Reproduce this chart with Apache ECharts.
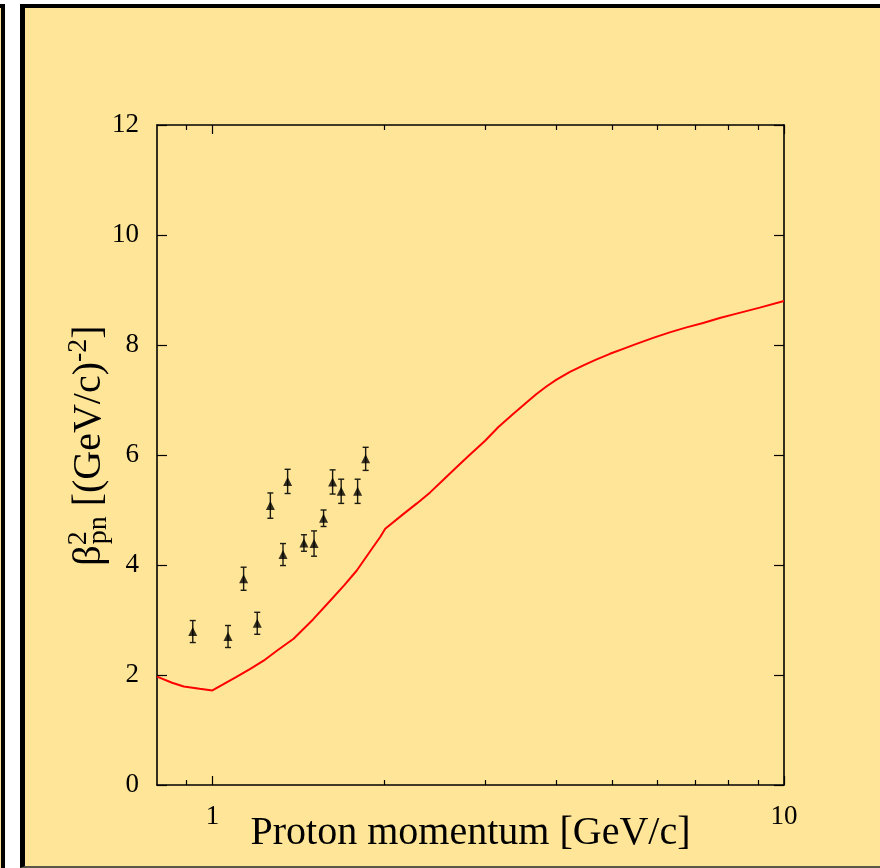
<!DOCTYPE html>
<html>
<head>
<meta charset="utf-8">
<script src="https://cdn.jsdelivr.net/npm/echarts@6/dist/echarts.min.js"></script>
<style>
  html, body { margin: 0; padding: 0; background: #ffffff; width: 880px; height: 868px; overflow: hidden; }
  .side-panel {
    position: absolute; box-sizing: border-box;
    left: -20px; top: 4px; width: 25px; height: 900px;
    background: #FFE597; border-top: 4px solid #000; border-right: 4px solid #000;
  }
  .main-panel {
    position: absolute; box-sizing: border-box;
    left: 20px; top: 4px; width: 900px; height: 864px;
    background: #FFE597;
    border-left: 5px solid #000; border-top: 4px solid #000; border-bottom: 2px solid #5a5648;
  }
  #chart { position: absolute; left: 0; top: 0; width: 880px; height: 868px; }
</style>
</head>
<body>
<div class="side-panel"></div>
<div class="main-panel"></div>
<div id="chart"></div>
<script>
// Measured beta^2_pn slope parameter vs proton momentum
const momentum = [0.924, 1.065, 1.134, 1.198, 1.263, 1.329, 1.354, 1.446, 1.506, 1.565, 1.623, 1.680, 1.795, 1.854];
const beta2    = [2.79, 2.70, 3.75, 2.94, 5.08, 4.19, 5.52, 4.40, 4.39, 4.85, 5.51, 5.34, 5.34, 5.93];
const beta2Err = [0.20, 0.20, 0.21, 0.20, 0.23, 0.20, 0.22, 0.15, 0.23, 0.15, 0.22, 0.22, 0.22, 0.21];

// Model curve
const modelMomentum = [
  0.80, 0.85, 0.891, 0.95, 1.00, 1.10, 1.165, 1.229, 1.30, 1.387, 1.50, 1.607, 1.70, 1.789, 1.90, 1.966,
  2.006, 2.16, 2.279, 2.404, 2.536, 2.676, 2.824, 3.0, 3.165, 3.362, 3.548, 3.69, 3.845, 4.0, 4.222,
  4.457, 4.701, 4.96, 5.232, 5.52, 5.903, 6.31, 6.752, 7.22, 7.72, 8.26, 9.07, 10.0
];
const modelBeta2 = [
  1.97, 1.86, 1.79, 1.75, 1.72, 1.96, 2.11, 2.26, 2.45, 2.66, 3.01, 3.35, 3.63, 3.90, 4.29, 4.51,
  4.66, 4.93, 5.12, 5.32, 5.55, 5.78, 6.01, 6.26, 6.51, 6.75, 6.96, 7.11, 7.25, 7.37, 7.51,
  7.63, 7.74, 7.84, 7.93, 8.02, 8.13, 8.23, 8.32, 8.40, 8.49, 8.57, 8.68, 8.80
];

// Axis ticks and labels
const xMajorTicks = [1, 10];
const xMinorTicks = [0.9, 2, 3, 4, 5, 6, 7, 8, 9];
const xLabels = [1, 10];
const yMin = 0, yMax = 12, yStep = 2;

const FONT = '"Liberation Serif", "Times New Roman", serif';
const AX = '#000';

const chart = echarts.init(document.getElementById('chart'), null, { renderer: 'canvas' });

const pointData = momentum.map((m, i) => [m, beta2[i]]);
const errData = momentum.map((m, i) => [m, beta2[i] - beta2Err[i], beta2[i] + beta2Err[i]]);
const curveData = modelMomentum.map((m, i) => [m, modelBeta2[i]]);

function xAxisDef(position, ticks, len, withLine, withLabels) {
  return {
    type: 'log', logBase: 10, min: 0.8, max: 10, position,
    axisLine: { show: withLine, onZero: false, lineStyle: { color: AX, width: 1.6 } },
    axisTick: { show: true, inside: true, length: len, customValues: ticks, lineStyle: { color: AX, width: 1.2 } },
    minorTick: { show: false },
    splitLine: { show: false },
    axisLabel: withLabels ? {
      show: true, customValues: xLabels, margin: 18,
      fontFamily: FONT, fontSize: 27, color: '#000'
    } : { show: false },
    name: withLabels ? 'Proton momentum [GeV/c]' : '',
    nameLocation: 'middle', nameGap: 28, nameMoveOverlap: false,
    nameTextStyle: { fontFamily: FONT, fontSize: 40, color: '#000' }
  };
}

// Rich-text pieces of the vertical axis title (left-aligned so the
// zero-width superscript sits directly above the subscript)
const titleRich = {
  b:    { fontFamily: FONT, fontSize: 40, color: '#000', lineHeight: 48, verticalAlign: 'middle', align: 'left' },
  sup2: { fontFamily: FONT, fontSize: 28, color: '#000', lineHeight: 28, verticalAlign: 'top', width: 1, align: 'left' },
  sup:  { fontFamily: FONT, fontSize: 28, color: '#000', lineHeight: 28, verticalAlign: 'top', align: 'left' },
  sub:  { fontFamily: FONT, fontSize: 28, color: '#000', lineHeight: 28, verticalAlign: 'bottom', align: 'left' }
};

const option = {
  animation: false,
  backgroundColor: 'transparent',
  grid: { left: 157, top: 125, width: 627, height: 660, containLabel: false, outerBoundsMode: 'none' },
  xAxis: [
    xAxisDef('bottom', xMajorTicks, 9, true, true),
    xAxisDef('bottom', xMinorTicks, 5, false, false),
    xAxisDef('top', xMajorTicks, 9, true, false),
    xAxisDef('top', xMinorTicks, 5, false, false)
  ],
  yAxis: [
    {
      type: 'value', min: yMin, max: yMax, interval: yStep, position: 'left',
      axisLine: { show: true, onZero: false, lineStyle: { color: AX, width: 1.6 } },
      axisTick: { show: true, inside: true, length: 10, lineStyle: { color: AX, width: 1.2 } },
      splitLine: { show: false },
      axisLabel: { margin: 18, fontFamily: FONT, fontSize: 27, color: '#000' },
      name: '{b|β}{sup2|2}{sub|pn}{b| [(GeV/c)}{sup|-2}{b|]}',
      nameLocation: 'middle', nameGap: 44, nameRotate: 90, nameMoveOverlap: false,
      nameTextStyle: {
        fontFamily: FONT, fontSize: 40, color: '#000', padding: [0, 0, 0, 19],
        rich: titleRich
      }
    },
    {
      type: 'value', min: yMin, max: yMax, interval: yStep, position: 'right',
      axisLine: { show: true, onZero: false, lineStyle: { color: AX, width: 1.6 } },
      axisTick: { show: true, inside: true, length: 10, lineStyle: { color: AX, width: 1.2 } },
      splitLine: { show: false },
      axisLabel: { show: false }
    }
  ],
  series: [
    {
      type: 'line', xAxisIndex: 0, yAxisIndex: 0,
      data: curveData, showSymbol: false, smooth: false,
      lineStyle: { color: '#ff0000', width: 2 }, z: 2
    },
    {
      type: 'custom', xAxisIndex: 0, yAxisIndex: 0,
      data: errData, z: 3,
      renderItem(params, api) {
        const x = api.value(0);
        const lo = api.coord([x, api.value(1)]);
        const hi = api.coord([x, api.value(2)]);
        const cap = 3;
        const style = { stroke: '#1a1a10', lineWidth: 1.4 };
        return {
          type: 'group',
          children: [
            { type: 'line', shape: { x1: hi[0], y1: hi[1], x2: lo[0], y2: lo[1] }, style },
            { type: 'line', shape: { x1: hi[0] - cap, y1: hi[1], x2: hi[0] + cap, y2: hi[1] }, style },
            { type: 'line', shape: { x1: lo[0] - cap, y1: lo[1], x2: lo[0] + cap, y2: lo[1] }, style }
          ]
        };
      }
    },
    {
      type: 'scatter', xAxisIndex: 0, yAxisIndex: 0,
      data: pointData, symbol: 'triangle', symbolSize: 9,
      itemStyle: { color: '#000' }, z: 4
    }
  ]
};

chart.setOption(option);
</script>
</body>
</html>
